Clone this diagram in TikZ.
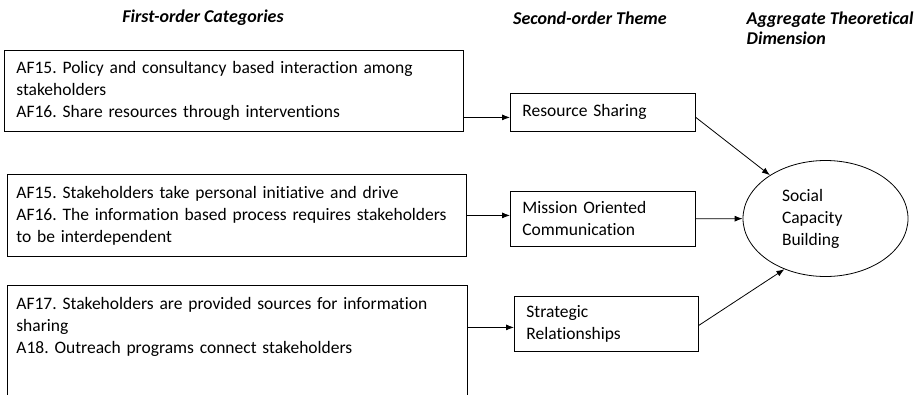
\documentclass[tikz,border=0pt]{standalone}
\usepackage{fontspec}
\setmainfont{Carlito}[Ligatures=NoCommon]
\usetikzlibrary{arrows.meta,shapes.geometric}
\frenchspacing
\hyphenpenalty=10000

\tikzset{
  catbox/.style={draw,anchor=north west,align=left,inner ysep=0pt},
  headtext/.style={font=\fontsize{18}{20}\selectfont\bfseries\itshape}
}

\begin{document}
\begin{tikzpicture}[x=1pt,y=-1pt,line width=0.8pt,font=\fontsize{17.5}{22}\selectfont]

      \clip (0,0) rectangle (921,394);

      \begin{scope}[every node/.style={headtext}]
        \node (h1) at (203,18) {First-order Categories};
        \node (h2) at (590,18) {Second-order Theme};
        \node[anchor=west,align=left] (h3) at (743,28) {Aggregate Theoretical\\Dimension};
      \end{scope}

      \begin{scope}[every node/.style={catbox}]
        \node[inner xsep=12pt,text width=435pt,minimum height=81pt] (b1) at (4,50)
          {AF15. Policy and consultancy based interaction among\\stakeholders\\AF16. Share resources through interventions};
        \node[inner xsep=9pt,text width=441pt,minimum height=82pt] (b3) at (7,174)
          {AF15. Stakeholders take personal initiative and drive\\AF16. The information based process requires stakeholders\\to be interdependent};
        \node[inner xsep=9pt,text width=442pt,minimum height=125pt] (b5) at (7,285)
          {AF17. Stakeholders are provided sources for information\\sharing\\A18. Outreach programs connect stakeholders\\~\\~};
        \node[inner xsep=12pt,text width=161pt,minimum height=38pt] (t1) at (510,93)
          {Resource Sharing};
        \node[inner xsep=12pt,text width=161pt,minimum height=55pt] (t2) at (510,191)
          {Mission Oriented\\Communication};
        \node[inner xsep=12pt,text width=160pt,minimum height=55pt] (t3) at (514,296)
          {Strategic\\Relationships};
      \end{scope}

      \node[draw,ellipse,inner sep=0pt,minimum width=165pt,minimum height=116pt,
            text width=87pt,align=left] (ell) at (825.5,218.5) {Social\\Capacity\\Building};

      \begin{scope}[every edge/.style={draw,-{Latex[length=8pt,width=6pt]}}]
        \path ([yshift=-5pt]t1.west -| b1.east) edge ([yshift=-5pt]t1.west);
        \path (b3) edge (b3 -| t2.west);
        \path ([yshift=-3.5pt]t3.west -| b5.east) edge ([yshift=-3.5pt]t3.west);
        \path ([yshift=-5pt]t1.east) edge (ell);
        \path (t2) edge (ell);
        \path ([yshift=-1.5pt]t3.east) edge (ell.231);
      \end{scope}

    \end{tikzpicture}
\end{document}
